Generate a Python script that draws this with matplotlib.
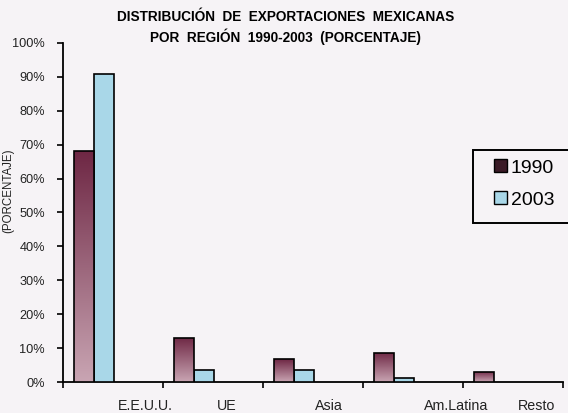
import matplotlib
matplotlib.use("Agg")
import matplotlib.pyplot as plt
import matplotlib.transforms as mtransforms
import numpy as np
from matplotlib.colors import LinearSegmentedColormap
from matplotlib.patches import Patch, Rectangle

categories = ["E.E.U.U.", "UE", "Asia", "Am.Latina", "Resto"]
v1990 = [68, 13, 6.7, 8.7, 3.0]
v2003 = [90.7, 3.5, 3.5, 1.2, 0.0]
series_names = ["1990", "2003"]
yticks = [0, 10, 20, 30, 40, 50, 60, 70, 80, 90, 100]
label_pos = [0.82, 1.64, 2.66, 3.93, 4.74]

plt.rcParams['font.family'] = ['Liberation Sans', 'DejaVu Sans']
bg = "#f6f3f6"
W, H = 568, 413
fig = plt.figure(figsize=(5.68, 4.13), dpi=100, facecolor=bg)
ax = fig.add_axes([0.111, 0.075, 0.880, 0.821])
ax.set_facecolor(bg)

x = np.arange(len(categories))
w = 0.2
b1 = ax.bar(x + 0.11, v1990, width=w, align='edge', color="#a0607a",
            edgecolor="black", linewidth=1.2, zorder=3, label=series_names[0])
b2 = ax.bar(x + 0.31, v2003, width=w, align='edge', color="#a9d7e8",
            edgecolor="black", linewidth=1.2, zorder=3, label=series_names[1])
for r, v in zip(b2, v2003):
    if v <= 0:
        r.set_visible(False)

# gradient fill for 1990 bars
cmap = LinearSegmentedColormap.from_list("g", ["#c9a5b3", "#6e2744"])
grad = np.linspace(0, 1, 256).reshape(-1, 1)
for r in b1:
    x0, y0 = r.get_x(), r.get_y()
    bw, bh = r.get_width(), r.get_height()
    im = ax.imshow(grad, extent=[x0, x0 + bw, y0, y0 + bh], origin='lower',
                   aspect='auto', cmap=cmap, zorder=3.5)
    im.set_clip_path(r)
    r.set_facecolor("none")
    r.set_zorder(4)

ax.set_xlim(0, 5)
ax.set_ylim(0, 100)
ax.set_yticks(yticks)
ax.set_yticklabels([f"{t}%" for t in yticks], fontsize=9.2, color="#222222")
ax.set_xticks(np.arange(0, 6))
ax.set_xticklabels([])
ax.tick_params(axis='x', which='major', direction='out', length=4, width=1.2)
ax.tick_params(axis='y', direction='out', length=4, width=1.2, pad=9)
for s in ['top', 'right']:
    ax.spines[s].set_visible(False)
for s in ['left', 'bottom']:
    ax.spines[s].set_linewidth(1.3)

# category labels (offset as in the reference)
tr = mtransforms.blended_transform_factory(ax.transData, fig.transFigure)
for p, c in zip(label_pos, categories):
    ax.text(p, 3.5 / H, c, transform=tr, ha='center', va='baseline',
            fontsize=10.3, color="#222222", clip_on=False)

fig.text(8 / W, 1 - 191 / H, "(PORCENTAJE)", rotation=90, ha='center',
         va='center', fontsize=8.3, color="#222222")
fig.text(0.502, 0.959, "DISTRIBUCIÓN  DE  EXPORTACIONES  MEXICANAS",
         ha='center', va='center', fontsize=9.8, fontweight='bold')
fig.text(0.502, 0.910, "POR  REGIÓN  1990-2003  (PORCENTAJE)",
         ha='center', va='center', fontsize=9.8, fontweight='bold')

# legend box
fig.patches.append(Rectangle((473 / W, 1 - 223 / H), 110 / W, 73 / H,
                             transform=fig.transFigure, facecolor=bg,
                             edgecolor="black", linewidth=1.4, zorder=5))
handles = [Patch(facecolor="#3a1a26", edgecolor="black"),
           Patch(facecolor="#a9d7e8", edgecolor="black")]
leg = fig.legend(handles, series_names, loc='center left',
                 bbox_to_anchor=(494 / W, 1 - 184 / H), fontsize=14,
                 frameon=False, handlelength=0.65, handleheight=0.65,
                 handletextpad=0.2, borderpad=0, labelspacing=0.75,
                 borderaxespad=0)
leg.set_zorder(6)

fig.savefig("out.png", dpi=100, facecolor=bg)
